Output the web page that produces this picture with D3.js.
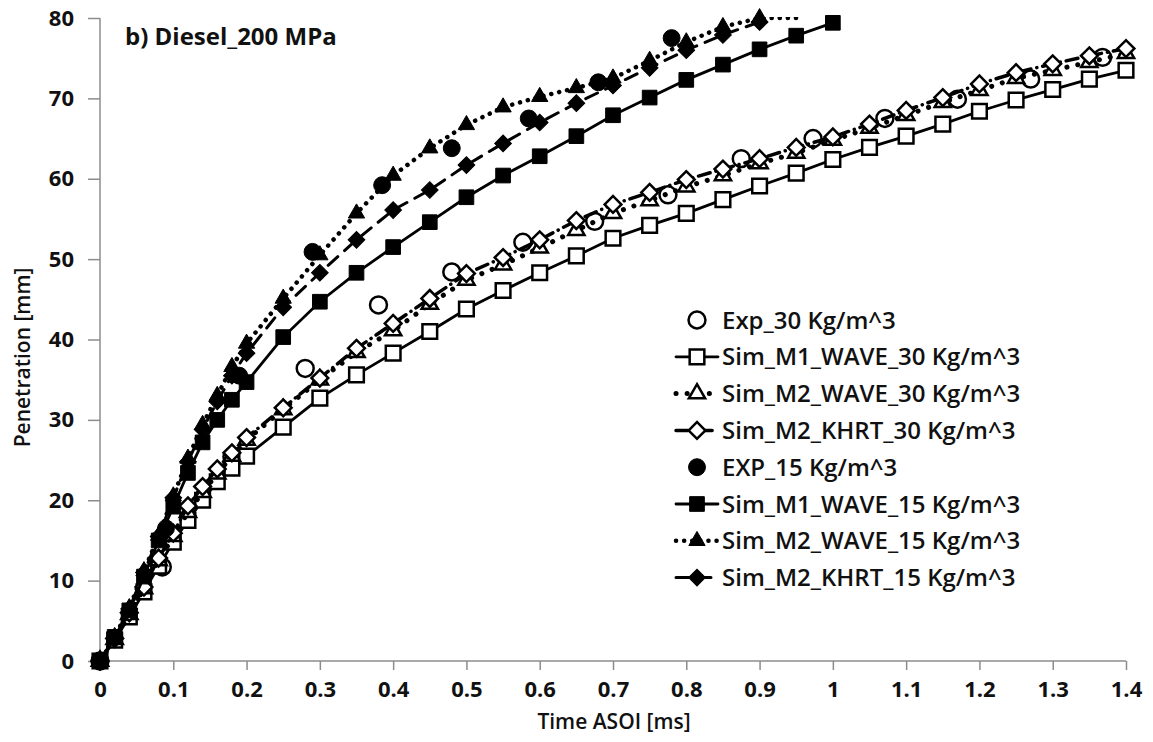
<!DOCTYPE html>
<html>
<head>
<meta charset="utf-8">
<script src="https://cdn.jsdelivr.net/npm/d3@7"></script>
<style>
  body { margin: 0; background: #fff; }
  text { font-family: "Open Sans", "Liberation Sans", sans-serif; fill: #111; }
  .axis path, .axis line { stroke: #8c8c8c; stroke-width: 1.5; }
  .axis text { font-size: 22px; font-weight: 700; }
</style>
</head>
<body>
<div id="chart"></div>
<script>
// time points (ms)
const tSim30 = [0, 0.02, 0.04, 0.06, 0.08, 0.1, 0.12, 0.14, 0.16, 0.18, 0.2, 0.25, 0.3, 0.35, 0.4, 0.45, 0.5, 0.55, 0.6, 0.65, 0.7, 0.75, 0.8, 0.85, 0.9, 0.95, 1.0, 1.05, 1.1, 1.15, 1.2, 1.25, 1.3, 1.35, 1.4];
const tM1Wave15 = [0, 0.02, 0.04, 0.06, 0.08, 0.1, 0.12, 0.14, 0.16, 0.18, 0.2, 0.25, 0.3, 0.35, 0.4, 0.45, 0.5, 0.55, 0.6, 0.65, 0.7, 0.75, 0.8, 0.85, 0.9, 0.95, 1.0];
const tM2Wave15 = [0, 0.02, 0.04, 0.06, 0.08, 0.1, 0.12, 0.14, 0.16, 0.18, 0.2, 0.25, 0.3, 0.35, 0.4, 0.45, 0.5, 0.55, 0.6, 0.65, 0.7, 0.75, 0.8, 0.85, 0.9, 0.95];
const tM2Khrt15 = [0, 0.02, 0.04, 0.06, 0.08, 0.1, 0.12, 0.14, 0.16, 0.18, 0.2, 0.25, 0.3, 0.35, 0.4, 0.45, 0.5, 0.55, 0.6, 0.65, 0.7, 0.75, 0.8, 0.85, 0.9];
const tExp30 = [0, 0.085, 0.18, 0.28, 0.38, 0.48, 0.577, 0.675, 0.775, 0.875, 0.973, 1.071, 1.17, 1.27, 1.368];
const tExp15 = [0, 0.09, 0.19, 0.29, 0.385, 0.48, 0.585, 0.68, 0.78];

// penetration (mm)
const exp30 = [0, 11.7, 25.4, 36.4, 44.3, 48.4, 52.1, 54.7, 58.0, 62.5, 65.0, 67.5, 69.9, 72.4, 75.1];
const m1Wave30 = [0, 2.6, 5.5, 8.6, 11.8, 14.8, 17.5, 20.0, 22.3, 24.0, 25.5, 29.1, 32.7, 35.6, 38.3, 41.0, 43.8, 46.1, 48.3, 50.4, 52.6, 54.2, 55.7, 57.4, 59.1, 60.7, 62.4, 63.9, 65.3, 66.8, 68.4, 69.8, 71.1, 72.4, 73.5];
const m2Wave30 = [0, 2.7, 5.8, 9.0, 12.5, 15.5, 18.5, 21.0, 23.3, 25.5, 27.5, 31.3, 35.0, 38.4, 41.1, 44.4, 47.4, 49.3, 51.4, 53.6, 55.7, 57.3, 59.0, 60.4, 61.9, 63.2, 64.8, 66.3, 67.9, 69.5, 71.0, 72.5, 73.5, 74.5, 75.6];
const m2Khrt30 = [0, 2.8, 6.0, 9.2, 12.8, 15.9, 19.3, 21.7, 23.9, 25.9, 27.8, 31.5, 35.2, 38.9, 42.0, 45.1, 48.2, 50.2, 52.4, 54.8, 56.8, 58.3, 59.9, 61.2, 62.5, 63.9, 65.2, 66.8, 68.5, 70.1, 71.8, 73.2, 74.3, 75.3, 76.2];
const exp15 = [0, 16.5, 35.5, 50.9, 59.2, 63.8, 67.5, 72.0, 77.5];
const m1Wave15 = [0, 3.0, 6.3, 10.5, 15.0, 19.2, 23.4, 27.2, 30.0, 32.5, 34.7, 40.3, 44.7, 48.3, 51.5, 54.6, 57.7, 60.4, 62.8, 65.3, 67.9, 70.1, 72.3, 74.2, 76.1, 77.8, 79.4];
const m2Wave15 = [0, 3.0, 6.6, 11.2, 15.6, 20.5, 25.2, 29.4, 33.0, 36.6, 39.5, 45.1, 50.5, 55.7, 60.4, 63.8, 66.7, 68.9, 70.2, 71.3, 72.5, 74.7, 77.0, 78.9, 80.0, 81.3];
const m2Khrt15 = [0, 3.0, 6.5, 11.0, 15.5, 20.3, 24.8, 28.8, 32.3, 35.5, 38.3, 44.0, 48.3, 52.4, 56.1, 58.6, 61.7, 64.4, 67.0, 69.4, 71.6, 73.8, 76.0, 77.9, 79.5];

const xTicks = [0, 0.1, 0.2, 0.3, 0.4, 0.5, 0.6, 0.7, 0.8, 0.9, 1, 1.1, 1.2, 1.3, 1.4];
const yTicks = [0, 10, 20, 30, 40, 50, 60, 70, 80];

const series = [
  { name: "Exp_30 Kg/m^3", t: tExp30, v: exp30, shape: "circle", fill: "#fff", dash: null },
  { name: "Sim_M1_WAVE_30 Kg/m^3", t: tSim30, v: m1Wave30, shape: "square", fill: "#fff", dash: "solid" },
  { name: "Sim_M2_WAVE_30 Kg/m^3", t: tSim30, v: m2Wave30, shape: "triangle", fill: "#fff", dash: "0.1 11", width: 5 },
  { name: "Sim_M2_KHRT_30 Kg/m^3", t: tSim30, v: m2Khrt30, shape: "diamond", fill: "#fff", dash: "12 6 0.1 6", width: 3.5 },
  { name: "EXP_15 Kg/m^3", t: tExp15, v: exp15, shape: "circle", fill: "#000", dash: null },
  { name: "Sim_M1_WAVE_15 Kg/m^3", t: tM1Wave15, v: m1Wave15, shape: "square", fill: "#000", dash: "solid" },
  { name: "Sim_M2_WAVE_15 Kg/m^3", t: tM2Wave15, v: m2Wave15, shape: "triangle", fill: "#000", dash: "0.1 8", width: 4.5 },
  { name: "Sim_M2_KHRT_15 Kg/m^3", t: tM2Khrt15, v: m2Khrt15, shape: "diamond", fill: "#000", dash: "13 9", width: 3 },
];

const dims = { width: 1153, height: 742, left: 100, right: 1126, top: 18, bottom: 661 };

const svg = d3.select("#chart").append("svg")
  .attr("width", dims.width)
  .attr("height", dims.height);

const x = d3.scaleLinear().domain([0, 1.4]).range([dims.left, dims.right]);
const y = d3.scaleLinear().domain([0, 80]).range([dims.bottom, dims.top]);
// lines running past the top are drawn along the edge, markers there are hidden
const yLine = y.copy().clamp(true);

svg.append("defs").append("clipPath").attr("id", "plot")
  .append("rect")
  .attr("x", dims.left).attr("y", dims.top - 1)
  .attr("width", dims.right - dims.left).attr("height", dims.bottom - dims.top + 1);

// axes
svg.append("g").attr("class", "axis")
  .attr("transform", `translate(0,${dims.bottom})`)
  .call(d3.axisBottom(x).tickValues(xTicks).tickSize(9).tickPadding(11).tickFormat(d3.format("")))
  .call(g => g.select(".domain").attr("d", `M${dims.left},0H${dims.right}`));

svg.append("g").attr("class", "axis")
  .attr("transform", `translate(${dims.left},0)`)
  .call(d3.axisLeft(y).tickValues(yTicks).tickSize(12).tickPadding(14))
  .call(g => g.select(".domain").attr("d", `M0,${dims.top}V${dims.bottom}`));

svg.append("text")
  .attr("transform", `translate(30,${(dims.top + dims.bottom) / 2 + 18}) rotate(-90)`)
  .attr("text-anchor", "middle")
  .style("font-size", "21px").style("font-weight", 600)
  .text("Penetration [mm]");

svg.append("text")
  .attr("x", 614).attr("y", 729)
  .attr("text-anchor", "middle")
  .style("font-size", "21px").style("font-weight", 600)
  .text("Time ASOI [ms]");

svg.append("text")
  .attr("x", 125).attr("y", 45)
  .style("font-size", "24px").style("font-weight", 700)
  .text("b) Diesel_200 MPa");

const symbolType = { circle: d3.symbolCircle, square: d3.symbolSquare, triangle: d3.symbolTriangle, diamond: d3.symbolSquare };
const symbolSize = { circle: 225, square: 215, triangle: 115, diamond: 140 };

function drawMarker(g, s, cx, cy) {
  g.append("path")
    .attr("d", d3.symbol().type(symbolType[s.shape]).size(symbolSize[s.shape])())
    .attr("transform", `translate(${cx},${cy})` + (s.shape === "diamond" ? " rotate(45)" : ""))
    .attr("fill", s.fill)
    .attr("stroke", "#000")
    .attr("stroke-width", s.fill === "#fff" ? 2.5 : 1);
}

function lineStyle(p, s) {
  p.attr("fill", "none")
    .attr("stroke", "#000")
    .attr("stroke-width", s.width || 2.8)
    .attr("stroke-linecap", "round")
    .attr("stroke-dasharray", s.dash === "solid" ? null : s.dash);
}

const line = d3.line().x(d => x(d[0])).y(d => yLine(d[1]));

series.forEach(s => {
  const pts = s.t.map((t, i) => [t, s.v[i]]);
  const g = svg.append("g");
  if (s.dash) {
    g.append("path")
      .attr("clip-path", "url(#plot)")
      .attr("d", line(pts))
      .call(p => lineStyle(p, s));
  }
  pts.filter(d => d[1] <= 80).forEach(d => drawMarker(g, s, x(d[0]), y(d[1])));
});

// legend
const legend = svg.append("g");
series.forEach((s, i) => {
  const ly = 320 + i * 36.8;
  if (s.dash) {
    legend.append("path")
      .attr("d", `M676,${ly}H718`)
      .call(p => lineStyle(p, s));
  }
  drawMarker(legend, s, 697, ly);
  legend.append("text")
    .attr("x", 722).attr("y", ly)
    .attr("dy", "0.36em")
    .style("font-size", "24px").style("font-weight", 600)
    .text(s.name);
});
</script>
</body>
</html>
